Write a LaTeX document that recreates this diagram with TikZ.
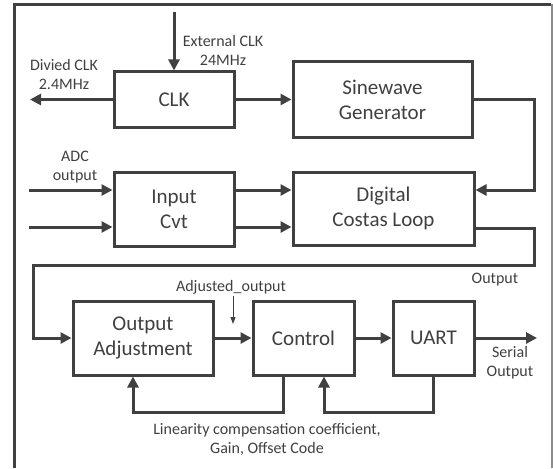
\documentclass[tikz,border=0pt]{standalone}
\usepackage{fontspec}
\setmainfont{Carlito}
\usetikzlibrary{arrows.meta}
\definecolor{ink}{HTML}{404040}
\definecolor{frameg}{HTML}{8C8C8C}
\tikzset{
  blk/.style={draw=ink, line width=3pt, text=ink, align=center, inner sep=0pt,
              font=\fontsize{21}{25}\selectfont},
  arr/.style={draw=ink, line width=3pt, -{Triangle[length=11pt,width=11pt]}},
  link/.style={draw=ink, line width=3pt},
  thinarr/.style={draw=ink, line width=1pt, -{Triangle[length=7pt,width=5pt]}},
  lbl/.style={text=ink, align=center, inner sep=0pt,
              font=\fontsize{16}{19}\selectfont}
}
\begin{document}
\begin{tikzpicture}[x=1pt,y=-1pt]
\useasboundingbox (0,0) rectangle (553,468);
% outer frame
\draw[ink, line width=3pt] (14.5,468) -- (14.5,5) -- (551,5);
\draw[frameg, line width=2pt] (551.5,4) -- (551.5,468);

% blocks
\node[blk, minimum width=120pt, minimum height=55pt] (clk) at (174,99.5) {CLK};
\node[blk, minimum width=179pt, minimum height=75pt] (sine) at (382.5,99.5) {Sinewave\\Generator};
\node[blk, minimum width=120pt, minimum height=74pt] (cvt) at (174,209) {Input\\Cvt};
\node[blk, minimum width=181pt, minimum height=73pt] (costas) at (383.5,208.5) {Digital\\Costas Loop};
\node[blk, minimum width=140pt, minimum height=74pt] (oadj) at (143,338) {Output\\Adjustment};
\node[blk, minimum width=101pt, minimum height=74pt] (ctrl) at (303.5,338) {Control};
\node[blk, minimum width=81pt, minimum height=74pt] (uart) at (433.5,338) {UART};

% labels
\node[lbl] (extl) at (223,50) {External CLK\\24MHz};
\node[lbl] (divl) at (64,75) {Divied CLK\\2.4MHz};
\node[lbl] (adcl) at (75,167.5) {ADC\\output};
\node[lbl] (outl) at (495,280) {Output};
\node[lbl] (adjl) at (231,287) {Adjusted\_output};
\node[lbl] (serl) at (510,363) {Serial\\Output};
\node[lbl] (linl) at (267,439) {Linearity compensation coefficient,\\Gain, Offset Code};

% free ends and bends
\coordinate (extin) at (174,12);
\coordinate (divout) at (30,99.5);
\coordinate (in1) at (29,190);
\coordinate (in2) at (29,227);
\coordinate (r1) at (534,190);
\coordinate (cy) at (0,228);
\coordinate (r2) at (534,265.5);
\coordinate (l2) at (33,265.5);
\coordinate (adjtop) at (233,296);
\coordinate (adjbot) at (233,324);
\coordinate (serout) at (537,338);
\coordinate (cx) at (283,0);
\coordinate (ax) at (133,412);
\coordinate (bx) at (324,412);

% clock section
\draw[arr] (extin) -- (clk.north);
\draw[arr] (clk.west) -- (divout);
\draw[arr] (clk.east) -- (sine.west);
\draw[arr] (sine.east) -| (r1) -- (r1 -| costas.east);

% inputs
\draw[arr] (in1) -- (in1 -| cvt.west);
\draw[arr] (in2) -- (in2 -| cvt.west);
\draw[arr] (in1 -| cvt.east) -- (in1 -| costas.west);
\draw[arr] (in2 -| cvt.east) -- (in2 -| costas.west);

% loop output back to adjustment
\draw[arr] (costas.east |- cy) -| (r2) -- (l2) |- (oadj.west);

% output chain
\draw[arr] (oadj.east) -- (ctrl.west);
\draw[thinarr] (adjtop) -- (adjbot);
\draw[arr] (ctrl.east) -- (uart.west);
\draw[arr] (uart.east) -- (serout);

% feedback paths
\draw[arr] (cx |- ctrl.south) |- (ax) -- (ax |- oadj.south);
\draw[arr] (uart.south) |- (bx) -- (bx |- ctrl.south);
\end{tikzpicture}
\end{document}
